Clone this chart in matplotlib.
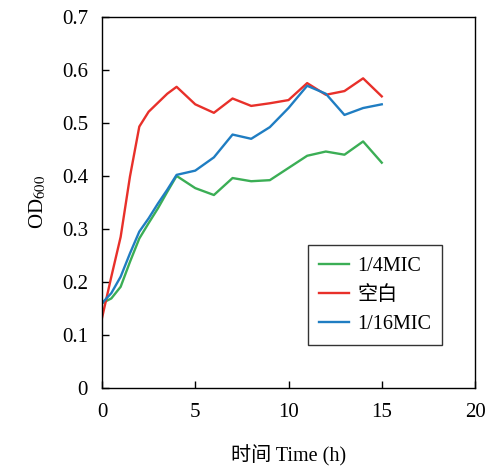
import matplotlib
matplotlib.use("Agg")
import matplotlib.pyplot as plt

plt.rcParams['font.family'] = ['Liberation Serif', 'Noto Sans CJK SC', 'DejaVu Sans']
plt.rcParams['mathtext.fontset'] = 'stix'

time_h = [0, 0.5, 1, 1.5, 2, 2.5, 3, 3.5, 4, 5, 6, 7, 8, 9, 10, 11, 12, 13, 14, 15]
mic_quarter = [0.16, 0.169, 0.191, 0.238, 0.282, 0.311, 0.339, 0.37, 0.40, 0.377, 0.364, 0.396, 0.39, 0.392, 0.415, 0.438, 0.446, 0.44, 0.465, 0.425]
blank = [0.132, 0.21, 0.285, 0.399, 0.493, 0.521, 0.538, 0.555, 0.568, 0.535, 0.519, 0.546, 0.532, 0.537, 0.543, 0.575, 0.553, 0.56, 0.584, 0.55]
mic_sixteenth = [0.16, 0.179, 0.21, 0.254, 0.295, 0.32, 0.348, 0.374, 0.402, 0.41, 0.435, 0.478, 0.47, 0.492, 0.528, 0.57, 0.555, 0.515, 0.528, 0.535]
series_labels = ['1/4MIC', '空白', '1/16MIC']
xticks = [0, 5, 10, 15, 20]
yticks = [0, 0.1, 0.2, 0.3, 0.4, 0.5, 0.6, 0.7]
ytick_labels = ['0', '0.1', '0.2', '0.3', '0.4', '0.5', '0.6', '0.7']

fig = plt.figure(figsize=(5.0, 4.67), dpi=100)
ax = fig.add_axes([0.204, 0.169, 0.746, 0.795])

ax.plot(time_h, mic_quarter, color='#3bae55', lw=1.7, label=series_labels[0])
ax.plot(time_h, blank, color='#e8302a', lw=1.7, label=series_labels[1])
ax.plot(time_h, mic_sixteenth, color='#1f7dc2', lw=1.7, label=series_labels[2])

ax.set_xlim(0, 20)
ax.set_ylim(0, 0.7)
ax.set_xticks(xticks)
ax.set_yticks(yticks)
ax.set_yticklabels(ytick_labels)
ax.tick_params(direction='in', length=5, width=1, labelsize=15)
ax.tick_params(axis='y', pad=10)
ax.tick_params(axis='x', pad=11)
ax.tick_params(top=False, right=False)
for s in ax.spines.values():
    s.set_linewidth(1)
    s.set_color('black')

ax.set_xlabel('时间 Time (h)', fontsize=14.5, labelpad=16)
ax.set_ylabel('OD$_{600}$', fontsize=15, labelpad=10)

leg = ax.legend(loc='lower left', bbox_to_anchor=(0.552, 0.116), fontsize=14.5,
                frameon=True, fancybox=False, edgecolor='black', handlelength=1.5,
                handletextpad=0.4, borderpad=0.55, labelspacing=0.5, borderaxespad=0)
leg.get_frame().set_linewidth(1)

fig.savefig('out.png', dpi=100)
